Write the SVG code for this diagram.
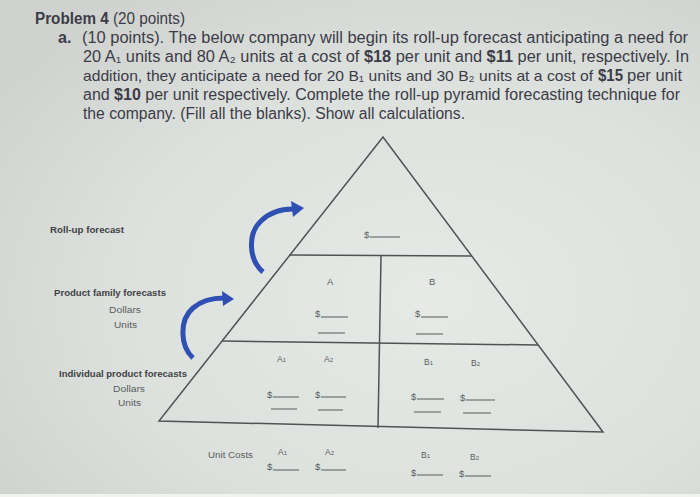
<svg xmlns="http://www.w3.org/2000/svg" width="700" height="497" viewBox="0 0 700 497">
<defs>
<radialGradient id="bg" cx="0.62" cy="0.6" r="0.75">
<stop offset="0" stop-color="#e6eae6"/>
<stop offset="0.6" stop-color="#dde1dd"/>
<stop offset="1" stop-color="#cfd2ce"/>
</radialGradient>
<style>
.t{font-family:"Liberation Sans",Arial,"DejaVu Sans",sans-serif;font-size:16px;fill:#3b3c48}
.b{font-weight:bold}
.lbl{font-family:"Liberation Sans",Arial,sans-serif;font-size:9px;fill:#3f4145;font-weight:bold}
.sub{font-family:"Liberation Sans",Arial,sans-serif;font-size:8.5px;fill:#5a5d60}
.s{font-family:"Liberation Sans",Arial,sans-serif;font-size:9.5px;fill:#5a5d60}
.ln{stroke:#4f5354;stroke-width:1.5;fill:none}
.bl{stroke:#6e7270;stroke-width:1.2}
.arr{stroke:#2f4fb3;stroke-width:5;fill:none}
.ah{fill:#2f4fb3}
</style>
</defs>
<rect width="700" height="497" fill="url(#bg)"/>
<rect y="494" width="700" height="3" fill="#f2f2f0"/>

<g id="problem-text">
<text class="t" x="35" y="24" textLength="150" lengthAdjust="spacingAndGlyphs"><tspan class="b">Problem 4</tspan> (20 points)</text>
<text class="t b" x="58" y="43">a.</text>
<text class="t" x="82" y="43" textLength="606" lengthAdjust="spacingAndGlyphs">(10 points). The below company will begin its roll-up forecast anticipating a need for</text>
<text class="t" x="83" y="62" textLength="606" lengthAdjust="spacingAndGlyphs">20 A₁ units and 80 A₂ units at a cost of <tspan class="b">$18</tspan> per unit and <tspan class="b">$11</tspan> per unit, respectively. In</text>
<text class="t" x="83" y="81" font-size="14.8" textLength="510" lengthAdjust="spacingAndGlyphs" style="font-size:14.8px">addition, they anticipate a need for 20 B₁ units and 30 B₂ units at a cost of</text>
<text class="t b" x="598" y="81" textLength="25" lengthAdjust="spacingAndGlyphs">$15</text>
<text class="t" x="627" y="81" textLength="55" lengthAdjust="spacingAndGlyphs">per unit</text>
<text class="t" x="83" y="100" textLength="597" lengthAdjust="spacingAndGlyphs">and <tspan class="b">$10</tspan> per unit respectively. Complete the roll-up pyramid forecasting technique for</text>
<text class="t" x="83" y="119" textLength="382" lengthAdjust="spacingAndGlyphs">the company. (Fill all the blanks). Show all calculations.</text>
</g>

<g id="pyramid">
<polygon class="ln" points="383,137 159,421 603,432"/>
<line class="ln" x1="289" y1="255" x2="472" y2="256"/>
<line class="ln" x1="222" y1="341" x2="538" y2="345"/>
<line class="ln" x1="381" y1="256" x2="378" y2="428"/>
</g>

<g id="rollup-tier">
<text class="s" x="364" y="238">$</text>
<line class="bl" x1="370" y1="237" x2="400" y2="237"/>
</g>

<g id="family-A">
<text class="s" x="327" y="285">A</text>
<text class="s" x="315" y="317">$</text>
<line class="bl" x1="321" y1="317" x2="348" y2="317"/>
<line class="bl" x1="318" y1="333" x2="345" y2="333"/>
</g>
<g id="family-B">
<text class="s" x="429" y="285">B</text>
<text class="s" x="415" y="317">$</text>
<line class="bl" x1="421" y1="317" x2="448" y2="317"/>
<line class="bl" x1="416" y1="334" x2="443" y2="334"/>
</g>

<g id="product-A1">
<text class="sub" x="277" y="362">A<tspan font-size="6">1</tspan></text>
<text class="s" x="267" y="398">$</text>
<line class="bl" x1="273" y1="397" x2="299" y2="397"/>
<line class="bl" x1="271" y1="409" x2="297" y2="409"/>
</g>
<g id="product-A2">
<text class="sub" x="324" y="362">A<tspan font-size="6">2</tspan></text>
<text class="s" x="315" y="398">$</text>
<line class="bl" x1="321" y1="397" x2="346" y2="397"/>
<line class="bl" x1="318" y1="410" x2="343" y2="410"/>
</g>
<g id="product-B1">
<text class="sub" x="424" y="365">B<tspan font-size="6">1</tspan></text>
<text class="s" x="411" y="400">$</text>
<line class="bl" x1="417" y1="399" x2="444" y2="399"/>
<line class="bl" x1="414" y1="412" x2="441" y2="412"/>
</g>
<g id="product-B2">
<text class="sub" x="471" y="366">B<tspan font-size="6">2</tspan></text>
<text class="s" x="460" y="401">$</text>
<line class="bl" x1="466" y1="400" x2="495" y2="400"/>
<line class="bl" x1="463" y1="413" x2="491" y2="413"/>
</g>

<g id="unit-costs">
<text class="sub" x="208" y="458" textLength="45" lengthAdjust="spacingAndGlyphs">Unit Costs</text>
<text class="sub" x="278" y="455">A<tspan font-size="6">1</tspan></text>
<text class="sub" x="325" y="455">A<tspan font-size="6">2</tspan></text>
<text class="sub" x="421" y="458">B<tspan font-size="6">1</tspan></text>
<text class="sub" x="470" y="460">B<tspan font-size="6">2</tspan></text>
<text class="s" x="267" y="470">$</text>
<line class="bl" x1="273" y1="470" x2="299" y2="470"/>
<text class="s" x="315" y="470">$</text>
<line class="bl" x1="321" y1="470" x2="346" y2="470"/>
<text class="s" x="411" y="476">$</text>
<line class="bl" x1="417" y1="475" x2="443" y2="475"/>
<text class="s" x="459" y="477">$</text>
<line class="bl" x1="465" y1="476" x2="491" y2="476"/>
</g>

<g id="left-labels">
<text class="lbl" x="50" y="233" textLength="74" lengthAdjust="spacingAndGlyphs">Roll-up forecast</text>
<text class="lbl" x="54" y="296" textLength="112" lengthAdjust="spacingAndGlyphs">Product family forecasts</text>
<text class="sub" x="109" y="313" textLength="32" lengthAdjust="spacingAndGlyphs">Dollars</text>
<text class="sub" x="114" y="328" textLength="23" lengthAdjust="spacingAndGlyphs">Units</text>
<text class="lbl" x="59" y="377" textLength="128" lengthAdjust="spacingAndGlyphs">Individual product forecasts</text>
<text class="sub" x="113" y="392" textLength="32" lengthAdjust="spacingAndGlyphs">Dollars</text>
<text class="sub" x="118" y="406" textLength="23" lengthAdjust="spacingAndGlyphs">Units</text>
</g>

<g id="connectors">
<path class="arr" d="M263,272 C249,260 247,234 261,221 C270,212 281,209 293,209"/>
<polygon class="ah" points="291,201 304,208 293,217"/>
<path class="arr" d="M193,358 C180,346 179,320 193,308 C202,300 213,298 224,298"/>
<polygon class="ah" points="222,291 234,299 223,306"/>
</g>
</svg>
